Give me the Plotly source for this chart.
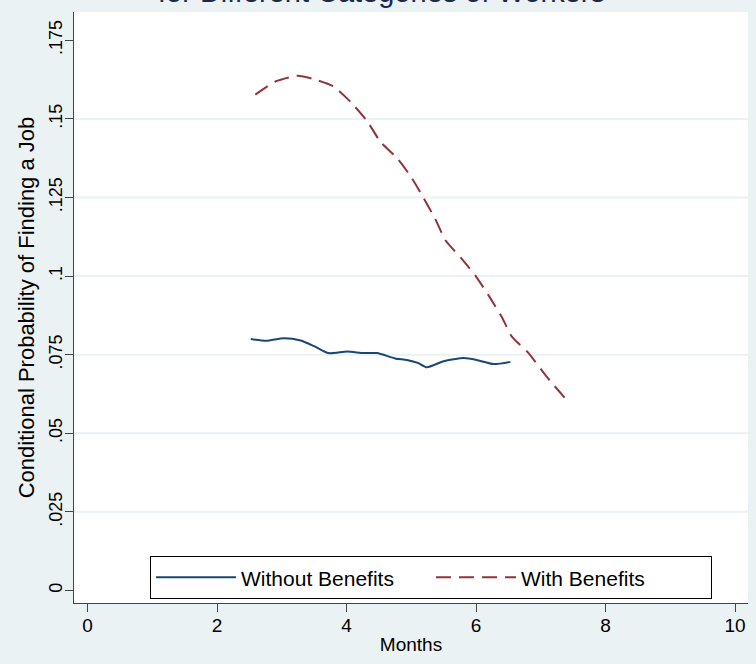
import plotly.graph_objects as go

# Data
months_without = [2.52, 2.76, 3.03, 3.29, 3.50, 3.72, 4.01, 4.26, 4.47, 4.75, 4.93, 5.10, 5.24,
                  5.50, 5.81, 6.01, 6.27, 6.53]
prob_without = [0.0800, 0.0794, 0.0802, 0.0795, 0.0777, 0.0755, 0.0760, 0.0755, 0.0755, 0.0738,
                0.0733, 0.0724, 0.0710, 0.0729, 0.0739, 0.0733, 0.0720, 0.0727]

months_with = [2.59, 2.90, 3.24, 3.47, 3.80, 4.08, 4.32, 4.52, 4.78, 4.99, 5.19, 5.37, 5.53,
               5.77, 6.00, 6.21, 6.40, 6.55, 6.81, 7.09, 7.39]
prob_with = [0.1577, 0.1619, 0.1637, 0.1628, 0.1603, 0.1550, 0.1492, 0.1428, 0.1375, 0.1317,
             0.1248, 0.1181, 0.1113, 0.1057, 0.0998, 0.0933, 0.0869, 0.0808, 0.0755, 0.0680, 0.0608]

y_ticks = [0, 0.025, 0.05, 0.075, 0.1, 0.125, 0.15, 0.175]
y_tick_labels = ["0", ".025", ".05", ".075", ".1", ".125", ".15", ".175"]
y_grid = [0.025, 0.05, 0.075, 0.1, 0.125, 0.15]
x_ticks = [0, 2, 4, 6, 8, 10]

BG = "#eaf2f3"
FONT = "Liberation Sans, Arial, sans-serif"
AXIS = "#454545"

fig = go.Figure()
fig.add_trace(go.Scatter(
    x=months_without, y=prob_without, mode="lines", name="Without Benefits",
    line=dict(color="#1a476f", width=2, shape="spline", smoothing=0.6),
))
fig.add_trace(go.Scatter(
    x=months_with, y=prob_with, mode="lines", name="With Benefits",
    line=dict(color="#90353b", width=2, dash="15px,8px", shape="spline", smoothing=0.6),
))

# light horizontal grid lines (interior ticks only, as in the reference)
for v in y_grid:
    fig.add_shape(type="line", xref="paper", x0=0, x1=1, yref="y", y0=v, y1=v,
                  line=dict(color=BG, width=2), layer="below")

fig.update_layout(
    width=756, height=664,
    margin=dict(l=74, r=8, t=12, b=61),
    paper_bgcolor=BG, plot_bgcolor="white",
    font=dict(family=FONT, size=19, color="black"),
    showlegend=True,
    legend=dict(
        orientation="h", x=0.1128, xanchor="left", y=0.0065, yanchor="bottom",
        bgcolor="white", bordercolor="black", borderwidth=1,
        font=dict(size=21, color="black"), itemwidth=80,
        entrywidth=185, entrywidthmode="pixels",
    ),
    xaxis=dict(
        range=[-0.21, 10.2], tickvals=x_ticks, ticks="outside", ticklen=8,
        tickcolor=AXIS, tickwidth=1, showline=True, linecolor=AXIS, linewidth=1,
        showgrid=False, zeroline=False, automargin=False, ticklabelstandoff=-3,
        title=dict(text="Months", standoff=2, font=dict(size=19)),
        tickfont=dict(size=19),
    ),
    yaxis=dict(
        range=[-0.004, 0.184], tickvals=y_ticks, ticktext=y_tick_labels,
        tickangle=-90, ticks="outside", ticklen=8, tickcolor=AXIS, tickwidth=1,
        showline=True, linecolor=AXIS, linewidth=1, showgrid=False, zeroline=False,
        automargin=False, ticklabelstandoff=-4, tickfont=dict(size=18),
        title=dict(text="Conditional Probability of Finding a Job", standoff=5,
                   font=dict(size=22)),
    ),
    annotations=[dict(
        text="for Different Categories of Workers", xref="paper", yref="paper",
        x=0.4555, y=1.0035, xanchor="center", yanchor="bottom", showarrow=False,
        font=dict(family=FONT, size=29, color="#1b2a4a"),
    )],
)

fig.write_html(
    "out.html",
    config={"displayModeBar": False},
    post_script="document.body.style.margin='0';document.body.style.background='#eaf2f3';",
)
